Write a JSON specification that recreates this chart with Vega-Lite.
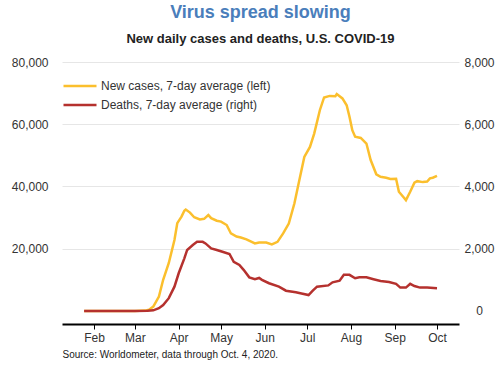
{
  "$schema": "https://vega.github.io/schema/vega-lite/v6.json",
  "width": 397,
  "height": 262,
  "autosize": {"type": "none"},
  "padding": {"left": 62, "top": 62, "right": 41, "bottom": 41},
  "title": {
    "text": "Virus spread slowing",
    "subtitle": "New daily cases and deaths, U.S. COVID-19",
    "font": "Liberation Sans",
    "fontSize": 18,
    "fontWeight": "bold",
    "color": "#4A7EBB",
    "subtitleFont": "Liberation Sans",
    "subtitleFontSize": 13,
    "subtitleFontWeight": "bold",
    "subtitleColor": "#222222",
    "subtitlePadding": 11,
    "offset": 10,
    "anchor": "middle"
  },
  "config": {
    "view": {"stroke": null},
    "font": "Liberation Sans"
  },
  "datasets": {
    "cases": [
      {"date": "2020-01-25", "value": 0},
      {"date": "2020-02-15", "value": 0},
      {"date": "2020-03-01", "value": 0},
      {"date": "2020-03-08", "value": 100},
      {"date": "2020-03-11", "value": 400},
      {"date": "2020-03-14", "value": 1400},
      {"date": "2020-03-18", "value": 4600},
      {"date": "2020-03-21", "value": 10000},
      {"date": "2020-03-25", "value": 15400},
      {"date": "2020-03-29", "value": 22800},
      {"date": "2020-03-31", "value": 28200},
      {"date": "2020-04-03", "value": 30300},
      {"date": "2020-04-05", "value": 32200},
      {"date": "2020-04-06", "value": 32600},
      {"date": "2020-04-09", "value": 31600},
      {"date": "2020-04-12", "value": 30100},
      {"date": "2020-04-16", "value": 29400},
      {"date": "2020-04-19", "value": 29600},
      {"date": "2020-04-22", "value": 30800},
      {"date": "2020-04-24", "value": 29800},
      {"date": "2020-04-28", "value": 29000},
      {"date": "2020-05-01", "value": 28700},
      {"date": "2020-05-05", "value": 27600},
      {"date": "2020-05-08", "value": 24900},
      {"date": "2020-05-12", "value": 23900},
      {"date": "2020-05-15", "value": 23600},
      {"date": "2020-05-19", "value": 23000},
      {"date": "2020-05-25", "value": 21700},
      {"date": "2020-05-28", "value": 22000},
      {"date": "2020-06-02", "value": 22000},
      {"date": "2020-06-06", "value": 21400},
      {"date": "2020-06-10", "value": 22200},
      {"date": "2020-06-14", "value": 24900},
      {"date": "2020-06-18", "value": 28100},
      {"date": "2020-06-22", "value": 34600},
      {"date": "2020-06-25", "value": 41000},
      {"date": "2020-06-29", "value": 49500},
      {"date": "2020-07-03", "value": 52700},
      {"date": "2020-07-06", "value": 57000},
      {"date": "2020-07-10", "value": 64500},
      {"date": "2020-07-13", "value": 68600},
      {"date": "2020-07-17", "value": 69100},
      {"date": "2020-07-21", "value": 69000},
      {"date": "2020-07-22", "value": 69700},
      {"date": "2020-07-26", "value": 68300},
      {"date": "2020-07-29", "value": 66100},
      {"date": "2020-07-31", "value": 62400},
      {"date": "2020-08-02", "value": 58100},
      {"date": "2020-08-04", "value": 56000},
      {"date": "2020-08-08", "value": 55600},
      {"date": "2020-08-12", "value": 53800},
      {"date": "2020-08-15", "value": 48500},
      {"date": "2020-08-19", "value": 43900},
      {"date": "2020-08-22", "value": 43100},
      {"date": "2020-08-26", "value": 42800},
      {"date": "2020-08-29", "value": 42400},
      {"date": "2020-09-02", "value": 42500},
      {"date": "2020-09-04", "value": 38300},
      {"date": "2020-09-07", "value": 36700},
      {"date": "2020-09-09", "value": 35600},
      {"date": "2020-09-12", "value": 38300},
      {"date": "2020-09-15", "value": 41200},
      {"date": "2020-09-17", "value": 41700},
      {"date": "2020-09-21", "value": 41400},
      {"date": "2020-09-24", "value": 41600},
      {"date": "2020-09-26", "value": 42600},
      {"date": "2020-09-28", "value": 42800},
      {"date": "2020-10-01", "value": 43400}
    ],
    "deaths": [
      {"date": "2020-01-25", "value": 0},
      {"date": "2020-02-15", "value": 0},
      {"date": "2020-03-01", "value": 0},
      {"date": "2020-03-10", "value": 5},
      {"date": "2020-03-14", "value": 20},
      {"date": "2020-03-18", "value": 87},
      {"date": "2020-03-21", "value": 190},
      {"date": "2020-03-25", "value": 410},
      {"date": "2020-03-29", "value": 780},
      {"date": "2020-04-01", "value": 1210},
      {"date": "2020-04-05", "value": 1690},
      {"date": "2020-04-07", "value": 1960},
      {"date": "2020-04-11", "value": 2120},
      {"date": "2020-04-14", "value": 2220},
      {"date": "2020-04-18", "value": 2220},
      {"date": "2020-04-20", "value": 2170},
      {"date": "2020-04-24", "value": 2010},
      {"date": "2020-04-28", "value": 1960},
      {"date": "2020-05-02", "value": 1900},
      {"date": "2020-05-07", "value": 1830},
      {"date": "2020-05-10", "value": 1580},
      {"date": "2020-05-14", "value": 1480},
      {"date": "2020-05-17", "value": 1320},
      {"date": "2020-05-21", "value": 1080},
      {"date": "2020-05-25", "value": 1020},
      {"date": "2020-05-28", "value": 1060},
      {"date": "2020-05-30", "value": 1000},
      {"date": "2020-06-04", "value": 890},
      {"date": "2020-06-11", "value": 780},
      {"date": "2020-06-16", "value": 650},
      {"date": "2020-06-23", "value": 600},
      {"date": "2020-06-27", "value": 560},
      {"date": "2020-07-02", "value": 510},
      {"date": "2020-07-05", "value": 650},
      {"date": "2020-07-08", "value": 780},
      {"date": "2020-07-16", "value": 820},
      {"date": "2020-07-19", "value": 920},
      {"date": "2020-07-24", "value": 970},
      {"date": "2020-07-27", "value": 1160},
      {"date": "2020-07-31", "value": 1160},
      {"date": "2020-08-04", "value": 1050},
      {"date": "2020-08-07", "value": 1080},
      {"date": "2020-08-12", "value": 1080},
      {"date": "2020-08-17", "value": 1020},
      {"date": "2020-08-22", "value": 960},
      {"date": "2020-08-28", "value": 930},
      {"date": "2020-09-02", "value": 870},
      {"date": "2020-09-05", "value": 750},
      {"date": "2020-09-09", "value": 750},
      {"date": "2020-09-12", "value": 870},
      {"date": "2020-09-15", "value": 800},
      {"date": "2020-09-19", "value": 750},
      {"date": "2020-09-24", "value": 750},
      {"date": "2020-10-01", "value": 730}
    ]
  },
  "layer": [
    {
      "data": {"name": "cases"},
      "mark": {"type": "line", "strokeWidth": 2.5, "clip": false},
      "encoding": {
        "x": {
          "field": "date",
          "type": "temporal",
          "scale": {"domain": ["2020-01-09T08:00:00", "2020-10-16T14:00:00"], "nice": false},
          "axis": {
            "format": "%b",
            "tickCount": {"interval": "month", "step": 1},
            "grid": false,
            "domainColor": "#000000",
            "domainWidth": 2,
            "tickColor": "#000000",
            "tickSize": 5,
            "tickWidth": 1,
            "labelFontSize": 12,
            "labelColor": "#333333",
            "labelPadding": 3,
            "labelFont": "Liberation Sans",
            "title": "Source: Worldometer, data through Oct. 4, 2020.",
            "titleFont": "Liberation Sans",
            "titleFontSize": 10,
            "titleFontWeight": "normal",
            "titleColor": "#222222",
            "titleAnchor": "start",
            "titleAlign": "left",
            "titleBaseline": "top",
            "titleX": 0,
            "titleY": 25
          }
        },
        "y": {
          "field": "value",
          "type": "quantitative",
          "scale": {"domain": [-4200, 80000], "nice": false, "zero": false},
          "axis": {
            "orient": "left",
            "values": [20000, 40000, 60000, 80000],
            "format": ",.0f",
            "grid": true,
            "gridColor": "#e6e6e6",
            "gridWidth": 1,
            "domain": false,
            "ticks": false,
            "labelPadding": 14,
            "labelFontSize": 12,
            "labelColor": "#333333",
            "labelFont": "Liberation Sans",
            "title": null
          }
        },
        "color": {
          "datum": "New cases, 7-day average (left)",
          "scale": {
            "domain": ["New cases, 7-day average (left)", "Deaths, 7-day average (right)"],
            "range": ["#FBBF2D", "#B5312E"]
          },
          "legend": {
            "orient": "none",
            "legendX": 11,
            "legendY": 17,
            "title": null,
            "padding": 0,
            "symbolType": "M-3,0H3",
            "symbolSize": 121,
            "symbolStrokeWidth": 2.5,
            "labelFontSize": 12,
            "labelColor": "#333333",
            "labelFont": "Liberation Sans",
            "labelOffset": 14,
            "labelLimit": 400,
            "rowPadding": 6
          }
        }
      }
    },
    {
      "data": {"name": "deaths"},
      "mark": {"type": "line", "strokeWidth": 2.5, "clip": false},
      "encoding": {
        "x": {"field": "date", "type": "temporal"},
        "y": {
          "field": "value",
          "type": "quantitative",
          "scale": {"domain": [-420, 8000], "nice": false, "zero": false},
          "axis": {
            "orient": "right",
            "values": [0, 2000, 4000, 6000, 8000],
            "format": ",.0f",
            "grid": false,
            "domain": false,
            "ticks": false,
            "labelAlign": "center",
            "labelPadding": 20,
            "labelFontSize": 12,
            "labelColor": "#333333",
            "labelFont": "Liberation Sans",
            "title": null
          }
        },
        "color": {"datum": "Deaths, 7-day average (right)"}
      }
    }
  ],
  "resolve": {"scale": {"y": "independent"}}
}
